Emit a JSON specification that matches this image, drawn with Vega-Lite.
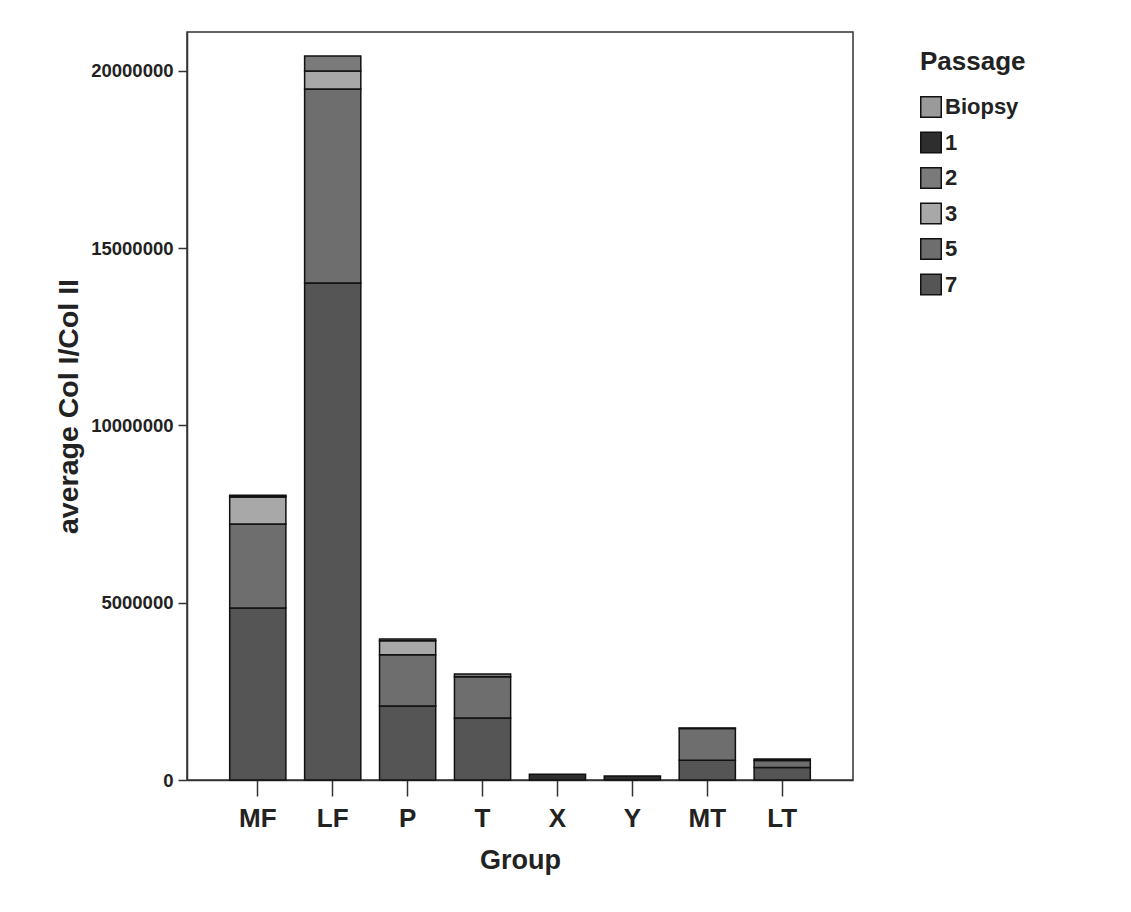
{
  "$schema": "https://vega.github.io/schema/vega-lite/v6.json",
  "autosize": "none",
  "width": 666,
  "height": 748,
  "padding": {"left": 187, "top": 32, "right": 278, "bottom": 132},
  "background": "white",
  "config": {
    "view": {"stroke": "#333333", "strokeWidth": 1.5},
    "font": "Liberation Sans"
  },
  "data": {
    "values": [
      {"Group": "MF", "Passage": "7", "pnum": 7, "value": 4850000},
      {"Group": "MF", "Passage": "5", "pnum": 5, "value": 2370000},
      {"Group": "MF", "Passage": "3", "pnum": 3, "value": 760000},
      {"Group": "MF", "Passage": "2", "pnum": 2, "value": 30000},
      {"Group": "MF", "Passage": "1", "pnum": 1, "value": 20000},
      {"Group": "LF", "Passage": "7", "pnum": 7, "value": 14020000},
      {"Group": "LF", "Passage": "5", "pnum": 5, "value": 5470000},
      {"Group": "LF", "Passage": "3", "pnum": 3, "value": 510000},
      {"Group": "LF", "Passage": "2", "pnum": 2, "value": 420000},
      {"Group": "P", "Passage": "7", "pnum": 7, "value": 2090000},
      {"Group": "P", "Passage": "5", "pnum": 5, "value": 1440000},
      {"Group": "P", "Passage": "3", "pnum": 3, "value": 400000},
      {"Group": "P", "Passage": "2", "pnum": 2, "value": 50000},
      {"Group": "T", "Passage": "7", "pnum": 7, "value": 1750000},
      {"Group": "T", "Passage": "5", "pnum": 5, "value": 1160000},
      {"Group": "T", "Passage": "2", "pnum": 2, "value": 80000},
      {"Group": "X", "Passage": "1", "pnum": 1, "value": 160000},
      {"Group": "Y", "Passage": "1", "pnum": 1, "value": 110000},
      {"Group": "MT", "Passage": "7", "pnum": 7, "value": 560000},
      {"Group": "MT", "Passage": "5", "pnum": 5, "value": 890000},
      {"Group": "MT", "Passage": "2", "pnum": 2, "value": 20000},
      {"Group": "LT", "Passage": "7", "pnum": 7, "value": 350000},
      {"Group": "LT", "Passage": "5", "pnum": 5, "value": 200000},
      {"Group": "LT", "Passage": "2", "pnum": 2, "value": 40000}
    ]
  },
  "mark": {"type": "bar", "stroke": "#111111", "strokeWidth": 1.5},
  "encoding": {
    "x": {
      "field": "Group",
      "type": "nominal",
      "sort": ["MF", "LF", "P", "T", "X", "Y", "MT", "LT"],
      "scale": {"paddingInner": 0.25, "paddingOuter": 0.57},
      "axis": {
        "title": "Group",
        "titleFontSize": 27,
        "titleFontWeight": "bold",
        "titleColor": "#222222",
        "titlePadding": 16,
        "labelAngle": 0,
        "labelFontSize": 26,
        "labelFontWeight": "bold",
        "labelColor": "#222222",
        "labelPadding": 9,
        "tickSize": 16,
        "tickColor": "#333333",
        "tickWidth": 1.5,
        "domainColor": "#333333",
        "domainWidth": 1.5
      }
    },
    "y": {
      "field": "value",
      "type": "quantitative",
      "aggregate": "sum",
      "stack": "zero",
      "scale": {"domain": [0, 21100000], "nice": false},
      "axis": {
        "title": "average Col I/Col II",
        "titleFontSize": 28.5,
        "titleFontWeight": "bold",
        "titleColor": "#222222",
        "titlePadding": 7,
        "values": [0, 5000000, 10000000, 15000000, 20000000],
        "format": "d",
        "labelFontSize": 18.5,
        "labelFontWeight": "bold",
        "labelColor": "#222222",
        "labelPadding": 5,
        "tickSize": 9,
        "tickColor": "#333333",
        "tickWidth": 1.5,
        "domainColor": "#333333",
        "domainWidth": 1.5,
        "grid": false
      }
    },
    "color": {
      "field": "Passage",
      "type": "nominal",
      "scale": {
        "domain": ["Biopsy", "1", "2", "3", "5", "7"],
        "range": ["#9a9a9a", "#2e2e2e", "#7a7a7a", "#a8a8a8", "#6e6e6e", "#555555"]
      },
      "legend": {
        "orient": "none",
        "legendX": 733,
        "legendY": 17,
        "title": "Passage",
        "titleFontSize": 26,
        "titleFontWeight": "bold",
        "titleColor": "#222222",
        "titlePadding": 21,
        "labelFontSize": 22,
        "labelFontWeight": "bold",
        "labelColor": "#222222",
        "labelOffset": 3,
        "symbolType": "square",
        "symbolSize": 420,
        "symbolStrokeColor": "#111111",
        "symbolStrokeWidth": 1.5,
        "rowPadding": 7.5
      }
    },
    "order": {"field": "pnum", "type": "quantitative", "sort": "descending"}
  }
}
